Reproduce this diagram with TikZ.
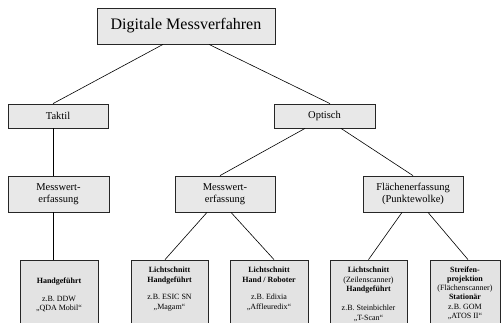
\documentclass[tikz,border=0pt]{standalone}
\usepackage{fontspec}
\setmainfont{Liberation Serif}
\begin{document}
\begin{tikzpicture}[x=1pt,y=-1pt,
  box/.style={draw=black!85, fill=gray!18, line width=0.8pt, inner sep=0pt, align=center,
    minimum width=100pt, minimum height=24pt, font=\fontsize{10.5}{12.5}\selectfont},
  topbox/.style={box, minimum width=178pt, minimum height=36pt, font=\fontsize{16}{18}\selectfont},
  mwbox/.style={box, minimum height=36pt},
  bbox/.style={draw=black!85, fill=gray!22, line width=0.8pt, inner sep=0pt, minimum height=90pt, minimum width=77pt},
  btext/.style={inner sep=0pt, align=center, anchor=north, font=\fontsize{8}{9.8}\selectfont},
  conn/.style={draw=black, line width=0.6pt}]
\useasboundingbox (0,0) rectangle (502,322);
\clip (0,0) rectangle (502,322);
\node[topbox] (top) at (186,26) {Digitale Messverfahren};
\node[box] (tak) at (58,116) {Taktil};
\node[box, minimum width=101pt] (opt) at (324.5,116) {Optisch};
\node[mwbox, minimum width=101pt] (mw1) at (58.5,194) {Messwert-\\erfassung};
\node[mwbox] (mw2) at (225,194) {Messwert-\\erfassung};
\node[mwbox] (fl) at (413,194) {Flächenerfassung\\(Punktewolke)};
\node[bbox, minimum width=78pt] (b1) at (59,305) {};
\node[bbox] (b2) at (169.5,305) {};
\node[bbox, minimum width=78pt] (b3) at (269,305) {};
\node[bbox] (b4) at (368.5,305) {};
\node[bbox, minimum width=70pt] (b5) at (465,305) {};
\node[btext] (t1) at (59,277.5) {\textbf{Handgeführt}\\[8pt]z.B. DDW\\„QDA Mobil“};
\node[btext] (t2) at (169.5,266.5) {\textbf{Lichtschnitt}\\\textbf{Handgeführt}\\[8pt]z.B. ESIC SN\\„Magam“};
\node[btext] (t3) at (269,266.5) {\textbf{Lichtschnitt}\\\textbf{Hand / Roboter}\\[8pt]z.B. Edixia\\„Affleuredix“};
\node[btext] (t4) at (368.5,266.5) {\textbf{Lichtschnitt}\\(Zeilenscanner)\\\textbf{Handgeführt}\\[9pt]z.B. Steinbichler\\„T-Scan“};
\node[btext, font=\fontsize{8}{9.2}\selectfont] (t5) at (465,266.5) {\textbf{Streifen-}\\\textbf{projektion}\\(Flächenscanner)\\\textbf{Stationär}\\z.B. GOM\\„ATOS II“};
\draw[conn] ([xshift=-23pt]top.south) -- ([xshift=-5pt]tak.north);
\draw[conn] ([xshift=23pt]top.south) -- ([xshift=5.5pt]opt.north);
\draw[conn] ([xshift=-5pt]tak.south) -- ([xshift=-5.5pt]mw1.north);
\draw[conn] ([xshift=-5.5pt]mw1.south) -- ([xshift=-6pt]b1.north);
\draw[conn] ([xshift=-19.5pt]opt.south) -- ([xshift=-5pt]mw2.north);
\draw[conn] ([xshift=16.5pt]opt.south) -- (fl.north);
\draw[conn] ([xshift=-18pt]mw2.south) -- ([xshift=-4.5pt]b2.north);
\draw[conn] ([xshift=6pt]mw2.south) -- ([xshift=5pt]b3.north);
\draw[conn] ([xshift=-11pt]fl.south) -- (b4.north);
\draw[conn] ([xshift=15pt]fl.south) -- ([xshift=3pt]b5.north);
\end{tikzpicture}
\end{document}
